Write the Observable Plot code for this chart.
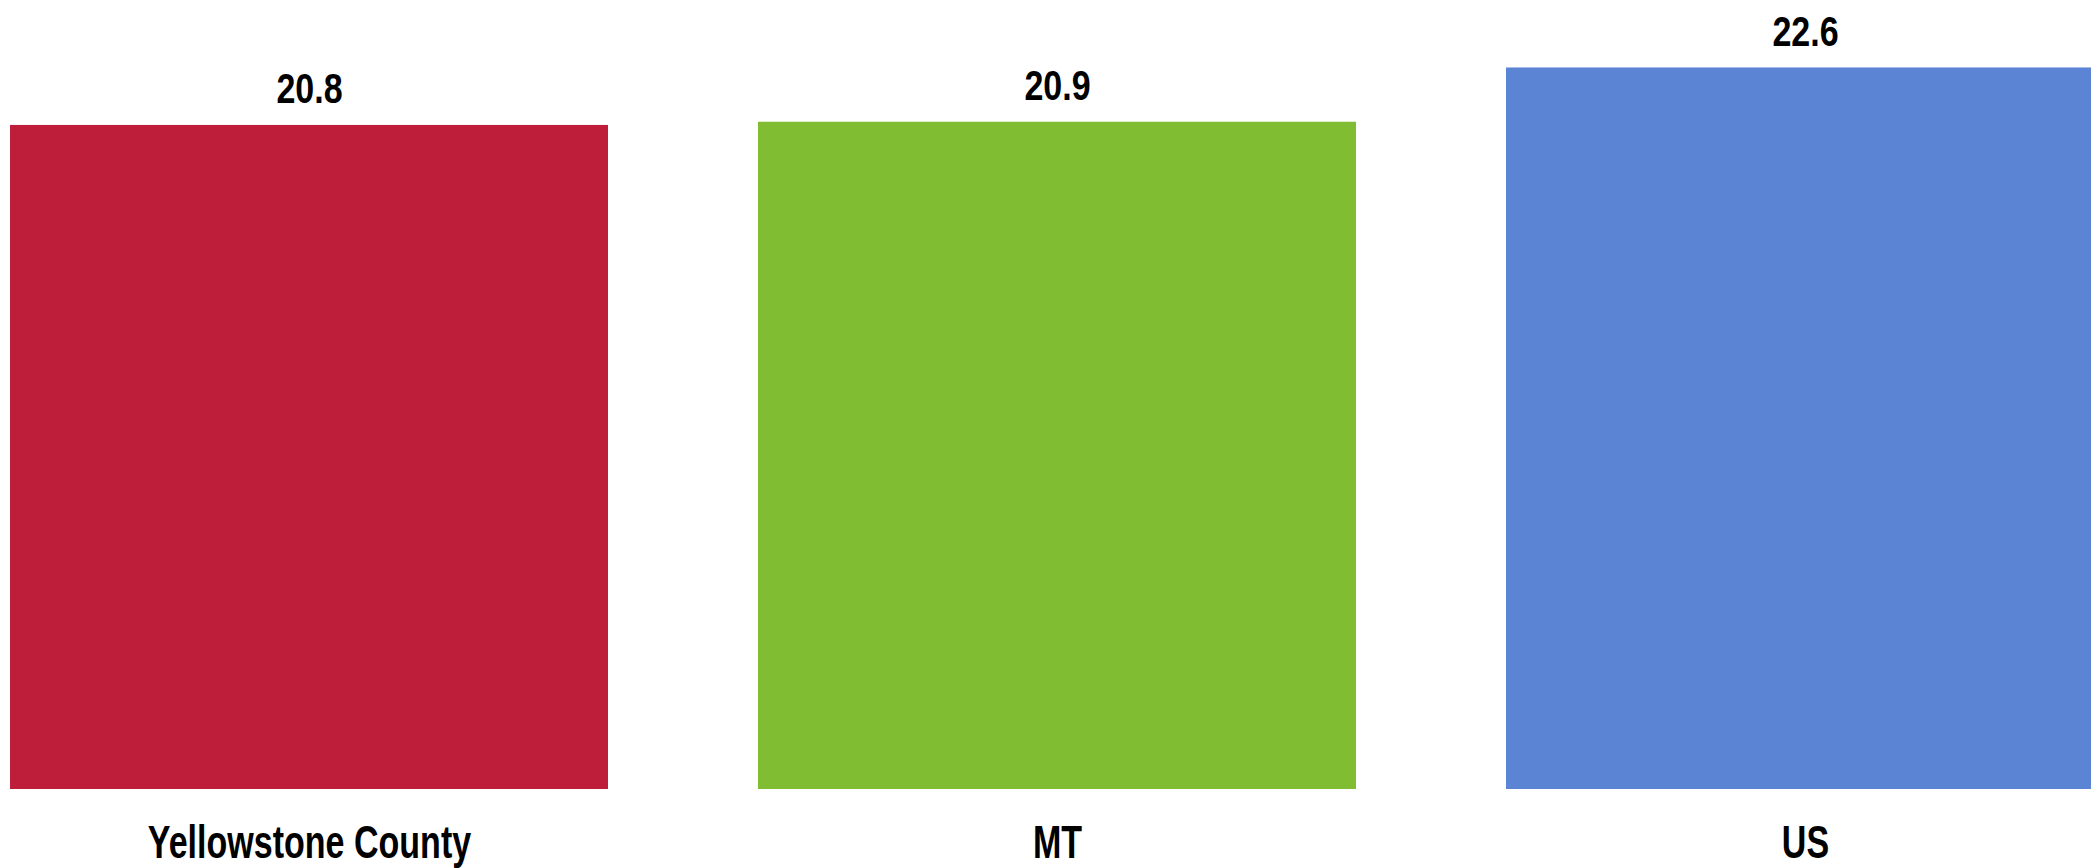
<!DOCTYPE html>
<html>
<head>
<meta charset="utf-8">
<script src="https://cdn.jsdelivr.net/npm/d3@7"></script>
<script src="https://cdn.jsdelivr.net/npm/@observablehq/plot@0.6"></script>
<style>
  html, body { margin: 0; padding: 0; background: white; overflow: hidden; }
  #chart svg { overflow: hidden; }
</style>
</head>
<body>
<div id="chart"></div>
<script>
const categories = ["Yellowstone County", "MT", "US"];
const values = [20.8, 20.9, 22.6];
const colors = ["#BE1E3A", "#80BD32", "#5B84D5"];

const data = categories.map((c, i) => ({category: c, value: values[i], color: colors[i]}));
const font = "'Liberation Sans', Arial, sans-serif";

const chart = Plot.plot({
  width: 2091,
  height: 868,
  marginLeft: 9,
  marginRight: -15,
  marginTop: 10,
  marginBottom: 79,
  style: {background: "white", fontFamily: font},
  x: {domain: categories, paddingInner: 0.2, paddingOuter: 0, axis: null},
  y: {domain: [0, 24.4], axis: null},
  marks: [
    Plot.barY(data, {x: "category", y: "value", fill: "color"}),
    Plot.text(data, {x: "category", y: "value", text: d => d.value.toFixed(1), lineAnchor: "bottom", dy: -22,
      fontSize: 42, fontWeight: "bold", fill: "black", fontFamily: font}),
    Plot.text(data, {x: "category", y: 0, text: "category", lineAnchor: "bottom", dy: 68,
      fontSize: 46, fontWeight: "bold", fill: "black", fontFamily: font})
  ]
});
document.getElementById("chart").appendChild(chart);

// condense the glyphs horizontally (narrow bold face look), keeping each text centred
chart.querySelectorAll("text").forEach(el => {
  const k = categories.includes(el.textContent) ? 0.74 : 0.81;
  const x = +(el.getAttribute("x") || 0);
  const t = el.getAttribute("transform") || "";
  el.setAttribute("transform", `${t} translate(${x},0) scale(${k},1) translate(${-x},0)`);
});
</script>
</body>
</html>
